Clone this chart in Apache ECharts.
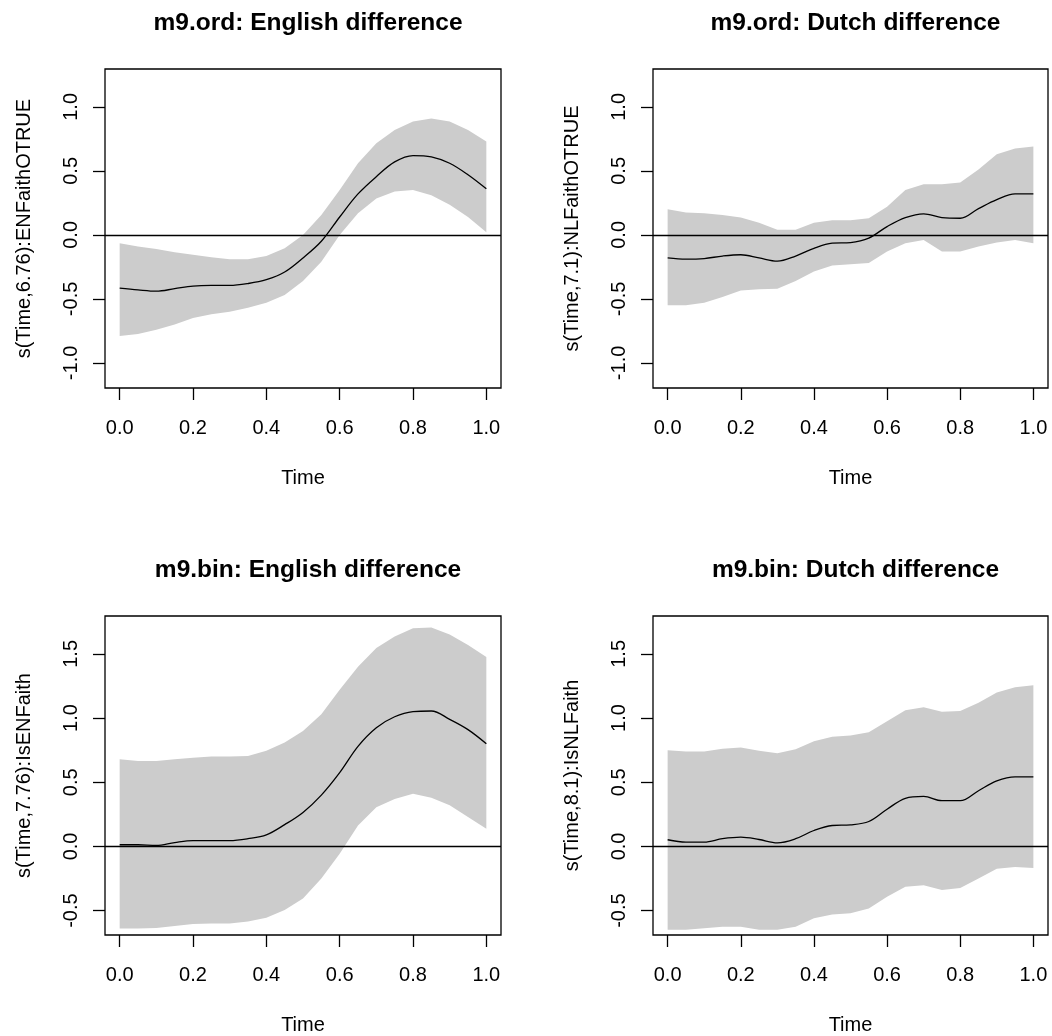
<!DOCTYPE html>
<html>
<head>
<meta charset="utf-8">
<script src="https://cdn.jsdelivr.net/npm/echarts@6/dist/echarts.min.js"></script>
<style>
html,body{margin:0;padding:0;background:#fff;}
#main{width:1052px;height:1036px;}
</style>
</head>
<body>
<div id="main"></div>
<script>
// ---- data ----
var times = [0,0.05,0.1,0.15,0.2,0.25,0.3,0.35,0.4,0.45,0.5,0.55,0.6,0.65,0.7,0.75,0.8,0.85,0.9,0.95,1.0];
var xTicks = [0,0.2,0.4,0.6,0.8,1.0];
var yTicksOrd = [-1,-0.5,0,0.5,1];
var yTicksBin = [-0.5,0,0.5,1,1.5];
var titles = ["m9.ord: English difference","m9.ord: Dutch difference","m9.bin: English difference","m9.bin: Dutch difference"];
var yNames = ["s(Time,6.76):ENFaithOTRUE","s(Time,7.1):NLFaithOTRUE","s(Time,7.76):IsENFaith","s(Time,8.1):IsNLFaith"];

var ordEnFit   = [-0.416,-0.43,-0.44,-0.42,-0.40,-0.395,-0.395,-0.38,-0.35,-0.29,-0.18,-0.05,0.14,0.32,0.455,0.57,0.62,0.61,0.56,0.47,0.36];
var ordEnUpper = [-0.065,-0.09,-0.11,-0.135,-0.155,-0.175,-0.19,-0.19,-0.165,-0.105,0.0,0.155,0.35,0.56,0.715,0.82,0.885,0.91,0.885,0.82,0.73];
var ordEnLower = [-0.79,-0.775,-0.74,-0.70,-0.65,-0.62,-0.60,-0.57,-0.53,-0.47,-0.36,-0.21,0.0,0.17,0.285,0.34,0.35,0.31,0.235,0.14,0.02];

var ordNlFit   = [-0.18,-0.19,-0.185,-0.165,-0.155,-0.18,-0.205,-0.165,-0.105,-0.065,-0.06,-0.025,0.065,0.135,0.165,0.135,0.13,0.205,0.275,0.32,0.32];
var ordNlUpper = [0.2,0.175,0.17,0.155,0.135,0.095,0.04,0.04,0.095,0.115,0.115,0.13,0.22,0.35,0.395,0.395,0.41,0.51,0.63,0.675,0.69];
var ordNlLower = [-0.55,-0.55,-0.53,-0.485,-0.435,-0.425,-0.42,-0.36,-0.285,-0.24,-0.23,-0.22,-0.13,-0.065,-0.04,-0.13,-0.13,-0.09,-0.06,-0.04,-0.065];

var binEnFit   = [0.013,0.013,0.008,0.03,0.045,0.045,0.045,0.06,0.09,0.17,0.265,0.40,0.575,0.78,0.925,1.01,1.05,1.055,0.99,0.91,0.80];
var binEnUpper = [0.68,0.665,0.665,0.68,0.69,0.70,0.70,0.705,0.745,0.81,0.90,1.03,1.22,1.40,1.545,1.635,1.70,1.705,1.65,1.57,1.475];
var binEnLower = [-0.64,-0.64,-0.635,-0.62,-0.605,-0.6,-0.6,-0.585,-0.555,-0.495,-0.405,-0.25,-0.057,0.163,0.305,0.37,0.41,0.38,0.32,0.23,0.137];

var binNlFit   = [0.052,0.034,0.034,0.06,0.072,0.054,0.028,0.06,0.124,0.163,0.168,0.194,0.29,0.375,0.39,0.356,0.356,0.434,0.51,0.542,0.542];
var binNlUpper = [0.75,0.74,0.74,0.76,0.77,0.745,0.725,0.757,0.82,0.855,0.865,0.89,0.975,1.06,1.085,1.05,1.055,1.12,1.2,1.24,1.255];
var binNlLower = [-0.65,-0.65,-0.638,-0.625,-0.625,-0.65,-0.65,-0.625,-0.56,-0.53,-0.52,-0.483,-0.392,-0.315,-0.302,-0.34,-0.323,-0.25,-0.173,-0.16,-0.168];

var panels = [
  {fit: ordEnFit, up: ordEnUpper, lo: ordEnLower, yTicks: yTicksOrd, yMin: -1.196, yMax: 1.296},
  {fit: ordNlFit, up: ordNlUpper, lo: ordNlLower, yTicks: yTicksOrd, yMin: -1.196, yMax: 1.296},
  {fit: binEnFit, up: binEnUpper, lo: binEnLower, yTicks: yTicksBin, yMin: -0.69, yMax: 1.795},
  {fit: binNlFit, up: binNlUpper, lo: binNlLower, yTicks: yTicksBin, yMin: -0.69, yMax: 1.795}
];

// ---- layout ----
var FONT = "'Liberation Sans', Arial, sans-serif";
var grids = [
  {left: 105, top: 69, width: 396, height: 319},
  {left: 653, top: 69, width: 395, height: 319},
  {left: 105, top: 616, width: 396, height: 320},
  {left: 653, top: 616, width: 395, height: 320}
];
var titleTops = [6, 6, 553, 553];

var option = {
  backgroundColor: '#ffffff',
  animation: false,
  title: [], grid: [], xAxis: [], yAxis: [], series: []
};

panels.forEach(function (p, i) {
  var g = grids[i];
  option.title.push({
    text: titles[i], left: g.left + g.width / 2, top: titleTops[i], textAlign: 'center',
    textStyle: {fontFamily: FONT, fontSize: 24.5, fontWeight: 'bold', color: '#000'}
  });
  option.grid.push({
    left: g.left, top: g.top, width: g.width, height: g.height,
    show: true, borderColor: '#000', borderWidth: 1.3, backgroundColor: 'transparent', containLabel: false
  });
  option.xAxis.push({
    type: 'value', gridIndex: i, min: -0.04, max: 1.04, position: 'bottom',
    name: 'Time', nameLocation: 'middle', nameGap: 80,
    nameTextStyle: {fontFamily: FONT, fontSize: 20, color: '#000'},
    axisLine: {show: false, onZero: false},
    splitLine: {show: false},
    axisTick: {show: true, inside: false, length: 12, customValues: xTicks, lineStyle: {color: '#000', width: 1.3}},
    axisLabel: {show: true, customValues: xTicks, margin: 30, fontFamily: FONT, fontSize: 20, color: '#000',
      formatter: function (v) { return v.toFixed(1); }}
  });
  option.yAxis.push({
    type: 'value', gridIndex: i, min: p.yMin, max: p.yMax, position: 'left',
    name: yNames[i], nameLocation: 'middle', nameGap: 71, nameRotate: 90,
    nameTextStyle: {fontFamily: FONT, fontSize: 20, color: '#000'},
    axisLine: {show: false, onZero: false},
    splitLine: {show: false},
    axisTick: {show: true, inside: false, length: 12, customValues: p.yTicks, lineStyle: {color: '#000', width: 1.3}},
    axisLabel: {show: true, customValues: p.yTicks, margin: 24, rotate: 90, fontFamily: FONT, fontSize: 20, color: '#000',
      formatter: function (v) { return v.toFixed(1); }}
  });
  // confidence band
  option.series.push({
    type: 'custom', xAxisIndex: i, yAxisIndex: i, silent: true, z: 1,
    data: [[0, 0]],
    renderItem: function (params, api) {
      var pts = [];
      for (var k = 0; k < times.length; k++) pts.push(api.coord([times[k], p.up[k]]));
      for (var k2 = times.length - 1; k2 >= 0; k2--) pts.push(api.coord([times[k2], p.lo[k2]]));
      return {type: 'polygon', shape: {points: pts}, style: {fill: '#cccccc', stroke: null}};
    }
  });
  // fitted line
  option.series.push({
    type: 'line', xAxisIndex: i, yAxisIndex: i, silent: true, z: 3,
    data: times.map(function (t, k) { return [t, p.fit[k]]; }),
    showSymbol: false, symbol: 'none', smooth: 0.35,
    lineStyle: {color: '#000', width: 1.3},
    markLine: {
      silent: true, symbol: 'none', animation: false,
      label: {show: false},
      lineStyle: {color: '#000', type: 'solid', width: 1.3},
      data: [{yAxis: 0}]
    }
  });
});

var chart = echarts.init(document.getElementById('main'), null, {renderer: 'canvas'});
chart.setOption(option);
</script>
</body>
</html>
